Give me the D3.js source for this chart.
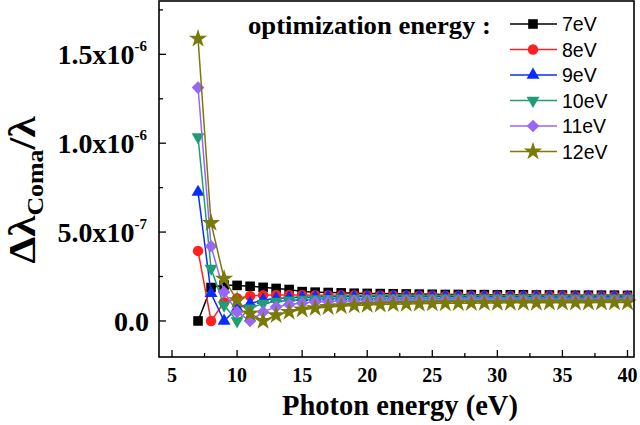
<!DOCTYPE html>
<html><head><meta charset="utf-8">
<script src="https://cdn.jsdelivr.net/npm/d3@7"></script>
<style>body{margin:0;background:#fff}</style>
</head><body>
<svg id="c" width="640" height="425"></svg>
<script>
const photonEnergy = d3.range(7, 41); // 7..40 eV
const seriesNames = ["7eV","8eV","9eV","10eV","11eV","12eV"];
const seriesColors = ["#000000","#ff2020","#0a2cff","#1f9e72","#9a66f5","#7a7a0a"];
const seriesSymbols = ["square","circle","triangle","triangleDown","diamond","star"];
// values in units of 1e-7
const s7eV  = [0,1.88,2.02,2.0,1.95,1.89,1.83,1.77,1.65,1.62,1.60,1.58,1.56,1.55,1.54,1.53,1.52,1.51,1.50,1.49,1.49,1.48,1.48,1.47,1.47,1.47,1.46,1.46,1.46,1.45,1.45,1.45,1.45,1.44];
const s8eV  = [3.94,0,1.05,1.28,1.40,1.45,1.46,1.46,1.46,1.45,1.45,1.44,1.44,1.43,1.43,1.43,1.42,1.42,1.42,1.41,1.41,1.41,1.41,1.40,1.40,1.40,1.40,1.40,1.40,1.39,1.39,1.39,1.39,1.39];
const s9eV  = [7.25,1.55,0,0.72,0.98,1.18,1.26,1.31,1.33,1.35,1.36,1.36,1.37,1.37,1.37,1.37,1.37,1.37,1.37,1.37,1.36,1.36,1.36,1.36,1.36,1.36,1.36,1.35,1.35,1.35,1.35,1.35,1.35,1.35];
const s10eV = [10.35,2.95,0.88,0,0.72,0.98,1.10,1.17,1.21,1.23,1.25,1.26,1.27,1.27,1.28,1.28,1.28,1.28,1.28,1.28,1.28,1.28,1.28,1.28,1.28,1.28,1.28,1.27,1.27,1.27,1.27,1.27,1.27,1.27];
const s11eV = [13.13,4.20,1.63,0.51,0,0.51,0.79,0.93,1.01,1.06,1.09,1.11,1.13,1.14,1.15,1.16,1.16,1.17,1.17,1.17,1.18,1.18,1.18,1.18,1.18,1.18,1.18,1.18,1.18,1.18,1.18,1.18,1.18,1.18];
const s12eV = [15.88,5.51,2.38,1.16,0.42,0,0.32,0.51,0.64,0.72,0.78,0.83,0.87,0.90,0.92,0.94,0.96,0.97,0.98,0.99,1.00,1.00,1.01,1.01,1.02,1.02,1.02,1.03,1.03,1.03,1.03,1.04,1.04,1.04];
const seriesValues = [s7eV,s8eV,s9eV,s10eV,s11eV,s12eV];
const xTicks = [5,10,15,20,25,30,35,40];
const yTickMantissa = ["0.0","5.0x10","1.0x10","1.5x10"];
const yTickExp = ["","-7","-6","-6"];
const yTickValues = [0,5e-7,1e-6,1.5e-6];

const svg = d3.select("#c");
const L=159,R=634,T=1,B=357;
const x = d3.scaleLinear().domain([4,40.5]).range([L,R]);
const y = d3.scaleLinear().domain([-2e-7,1.8e-6]).range([B-0.5,T]);
const serif = "Liberation Serif, Times New Roman, serif";

const symMap = {
  square: d3.symbolSquare, circle: d3.symbolCircle, triangle: d3.symbolTriangle,
  triangleDown: d3.symbolTriangle, diamond: d3.symbolSquare, star: d3.symbolStar
};
const symSize = {square:92, circle:86, triangle:72, triangleDown:72, diamond:80, star:105};
const symRot = {square:0, circle:0, triangle:0, triangleDown:180, diamond:45, star:0};

// series
seriesValues.forEach((vals,i)=>{
  const data = photonEnergy.map((e,j)=>({e, v: vals[j]*1e-7}));
  const g = svg.append("g");
  g.append("path").datum(data)
    .attr("fill","none").attr("stroke",seriesColors[i]).attr("stroke-width",1.5)
    .attr("d", d3.line().x(d=>x(d.e)).y(d=>y(d.v)));
  const sym = d3.symbol().type(symMap[seriesSymbols[i]]).size(symSize[seriesSymbols[i]]);
  g.selectAll("path.m").data(data).join("path").attr("class","m")
    .attr("d", sym)
    .attr("fill", seriesColors[i])
    .attr("transform", d=>`translate(${x(d.e)},${y(d.v)}) rotate(${symRot[seriesSymbols[i]]})`);
});

// frame
svg.append("rect").attr("x",L).attr("y",T).attr("width",R-L).attr("height",B-T)
  .attr("fill","none").attr("stroke","#000").attr("stroke-width",1.6);

// x ticks (inward)
const xAxis = svg.append("g");
xTicks.forEach(t=>{
  xAxis.append("line").attr("x1",x(t)).attr("x2",x(t)).attr("y1",B).attr("y2",B-7).attr("stroke","#000").attr("stroke-width",1.3);
  xAxis.append("text").attr("x",x(t)).attr("y",382).attr("text-anchor","middle")
    .attr("font-family",serif).attr("font-weight","bold").attr("font-size",20).text(t);
});
d3.range(7.5,40,5).forEach(t=>{
  xAxis.append("line").attr("x1",x(t)).attr("x2",x(t)).attr("y1",B).attr("y2",B-4).attr("stroke","#000").attr("stroke-width",1.3);
});
// y ticks
const yAxis = svg.append("g");
yTickValues.forEach((t,i)=>{
  yAxis.append("line").attr("x1",L).attr("x2",L+7).attr("y1",y(t)).attr("y2",y(t)).attr("stroke","#000").attr("stroke-width",1.3);
  const tx = yAxis.append("text").attr("x",i===0?149:147).attr("y",y(t)+10).attr("text-anchor","end")
    .attr("font-family",serif).attr("font-weight","bold").attr("font-size",28);
  tx.append("tspan").text(yTickMantissa[i]);
  if (yTickExp[i]) tx.append("tspan").attr("dy",-13).attr("font-size",15).text(yTickExp[i]);
});
[2.5e-7,7.5e-7,1.25e-6,1.75e-6].forEach(t=>{
  yAxis.append("line").attr("x1",L).attr("x2",L+4).attr("y1",y(t)).attr("y2",y(t)).attr("stroke","#000").attr("stroke-width",1.3);
});

// axis titles
svg.append("text").attr("x",400).attr("y",415).attr("text-anchor","middle")
  .attr("font-family",serif).attr("font-weight","bold").attr("font-size",28.5)
  .text("Photon energy (eV)");
const yt = svg.append("text").attr("transform","translate(35,190) rotate(-90)").attr("text-anchor","middle")
  .attr("font-family",serif).attr("font-weight","bold").attr("font-size",38)
  .attr("textLength",147).attr("lengthAdjust","spacingAndGlyphs");
yt.append("tspan").text("Δλ");
yt.append("tspan").attr("font-size",23).attr("dy",8).text("Coma");
yt.append("tspan").attr("dy",-8).text("/λ");

// legend
svg.append("text").attr("x",248).attr("y",34)
  .attr("font-family",serif).attr("font-weight","bold").attr("font-size",25)
  .attr("textLength",243).attr("lengthAdjust","spacingAndGlyphs")
  .text("optimization energy :");
const leg = svg.append("g");
seriesNames.forEach((n,i)=>{
  const yy = 24 + i*25.5;
  leg.append("line").attr("x1",510).attr("x2",557).attr("y1",yy).attr("y2",yy).attr("stroke",seriesColors[i]).attr("stroke-width",1.5);
  const s = seriesSymbols[i];
  leg.append("path").attr("d", d3.symbol().type(symMap[s]).size(symSize[s])())
    .attr("fill",seriesColors[i]).attr("transform",`translate(533,${yy}) rotate(${symRot[s]})`);
  leg.append("text").attr("x",562).attr("y",yy+7)
    .attr("font-family","Liberation Sans, Arial, sans-serif").attr("font-size",19.5).text(n);
});
</script>
</body></html>
